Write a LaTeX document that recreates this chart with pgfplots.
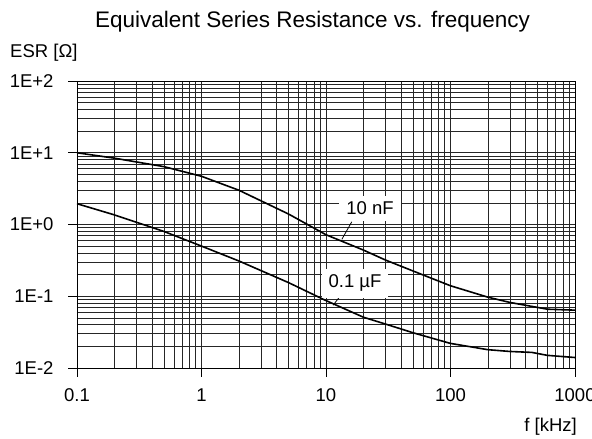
\documentclass[border=0pt]{standalone}
\usepackage{pgfplots}
\pgfplotsset{compat=1.18}
\usepackage{fontspec}
\setmainfont{Liberation Sans}

\begin{document}
\begin{tikzpicture}[x=1pt,y=1pt]
\path[use as bounding box] (-77,-71) rectangle (515,368);
\begin{axis}[
    at={(0,0)}, anchor=south west,
    scale only axis, width=498pt, height=287pt,
    xmode=log, ymode=log,
    xmin=0.1, xmax=1000, ymin=0.01, ymax=100,
    xtick={0.1,1,10,100,1000},
    xticklabels={0.1,1,10,100,1000},
    ytick={0.01,0.1,1,10,100},
    yticklabels={1E-2,1E-1,1E+0,1E+1,1E+2},
    minor xtick={0.2,0.3,0.4,0.5,0.6,0.7,0.8,0.9,2,3,4,5,6,7,8,9,20,30,40,50,60,70,80,90,200,300,400,500,600,700,800,900},
    minor ytick={0.02,0.03,0.04,0.05,0.06,0.07,0.08,0.09,0.2,0.3,0.4,0.5,0.6,0.7,0.8,0.9,2,3,4,5,6,7,8,9,20,30,40,50,60,70,80,90},
    grid=both,
    major grid style={black!85, line width=0.7pt},
    minor grid style={black!85, line width=0.7pt},
    tick align=outside, major tick length=9pt, minor tick length=0pt,
    xtick pos=bottom, ytick pos=left,
    tick style={black, line width=0.7pt},
    axis line style={black, line width=0.9pt},
    ticklabel style={font=\fontsize{18.5}{22}\selectfont},
    yticklabel style={xshift=-11pt},
    xticklabel style={yshift=-8pt},
  ]
  % 10 nF
  \addplot[black, line width=1.6pt] coordinates {
    (0.1,10) (0.2,8.4) (0.5,6.4) (1,4.7) (2,3.0) (5,1.4) (10,0.72)
    (20,0.44) (30,0.32) (50,0.225) (100,0.14) (200,0.097) (300,0.082)
    (600,0.066) (1000,0.064)
  };
  % 0.1 uF
  \addplot[black, line width=1.6pt] coordinates {
    (0.1,1.95) (0.2,1.36) (0.5,0.8) (1,0.5) (2,0.31) (5,0.155) (10,0.087)
    (20,0.051) (30,0.041) (50,0.031) (100,0.022) (200,0.018) (300,0.017)
    (450,0.0165) (600,0.015) (1000,0.014)
  };
  \draw[black, line width=0.8pt] (axis cs:16.1,1.09) -- (axis cs:13.4,0.62);
  \draw[black, line width=0.8pt] (axis cs:13.6,0.111) -- (axis cs:11.4,0.075);
  \node[fill=white, inner xsep=7pt, inner ysep=6pt, font=\fontsize{18.5}{22}\selectfont]
    at (axis cs:22.6,1.67) {10 nF};
  \node[fill=white, inner xsep=7pt, inner ysep=6pt, font=\fontsize{18.5}{22}\selectfont]
    at (axis cs:17.1,0.152) {0.1 µF};
\end{axis}
\node[anchor=base, font=\fontsize{22.5}{26}\selectfont, inner sep=0pt] at (235.5,340) {Equivalent Series Resistance vs. frequency};
\node[anchor=base west, font=\fontsize{18.5}{22}\selectfont, inner sep=0pt] at (-67,310) {ESR [Ω]};
\node[anchor=base east, font=\fontsize{18.5}{22}\selectfont, inner sep=0pt] at (500,-64) {f [kHz]};
\end{tikzpicture}
\end{document}
